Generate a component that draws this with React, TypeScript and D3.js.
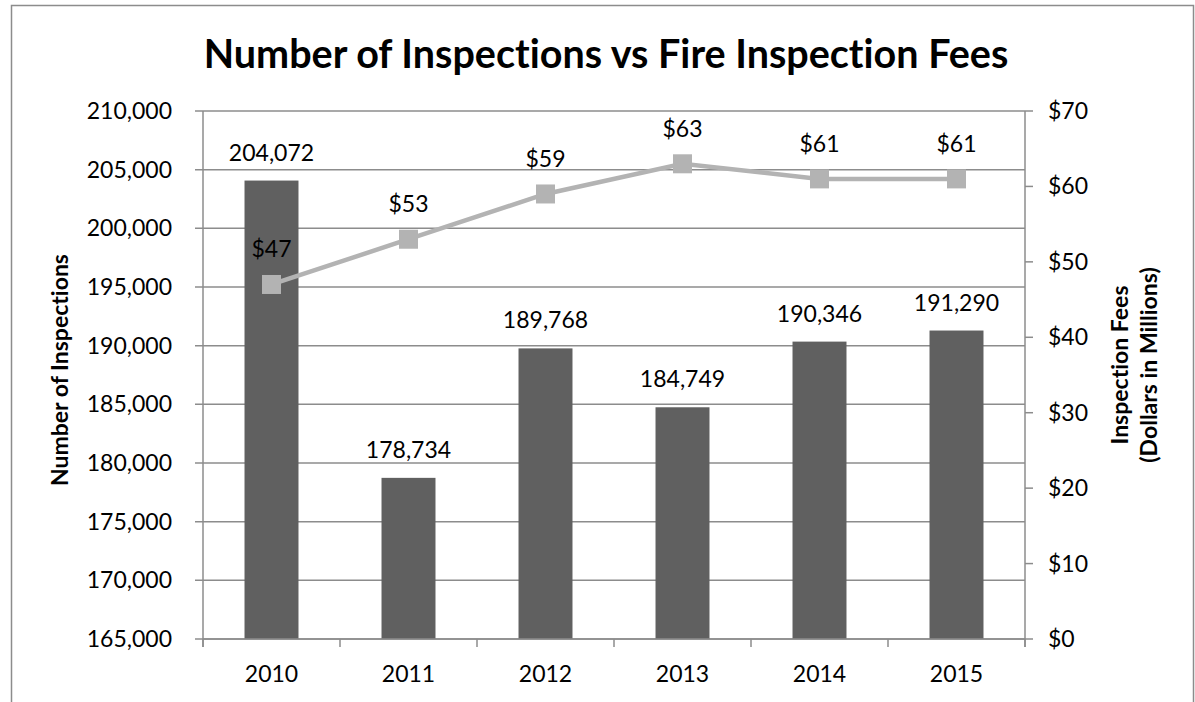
import React from 'react';
import * as d3 from 'd3';

const years = ['2010', '2011', '2012', '2013', '2014', '2015'];
const inspections = [204072, 178734, 189768, 184749, 190346, 191290];
const fees = [47, 53, 59, 63, 61, 61];
const leftTicks = [165000, 170000, 175000, 180000, 185000, 190000, 195000, 200000, 205000, 210000];
const rightTicks = [0, 10, 20, 30, 40, 50, 60, 70];

const W = 1195;
const H = 702;
const plot = { left: 203, right: 1025, top: 111, bottom: 639 };
const font = 'Lato, "Open Sans", sans-serif';
const gridColor = '#8c8c8c';
const barColor = '#606060';
const lineColor = '#b3b3b3';

export default function App() {
  const x = d3.scaleBand<string>()
    .domain(years)
    .range([plot.left, plot.right])
    .paddingInner(0.606)
    .paddingOuter(0.303);
  const band = d3.scaleBand<string>().domain(years).range([plot.left, plot.right]);
  const yL = d3.scaleLinear().domain([165000, 210000]).range([plot.bottom, plot.top]);
  const yR = d3.scaleLinear().domain([0, 70]).range([plot.bottom, plot.top]);
  const fmtN = d3.format(',');
  const fmtD = (v: number) => '$' + v;
  const mid = (y: string) => band(y)! + band.bandwidth() / 2;

  const line = d3.line<number>()
    .x((d, i) => mid(years[i]))
    .y(d => yR(d));

  const boundaries = years.map(y => band(y)!).concat([plot.right]);

  return (
    <svg width={W} height={H} style={{ position: 'absolute', left: 0, top: 0, background: '#fff', fontVariantLigatures: 'none' }}>
      <rect x={11.5} y={5.5} width={1182} height={720} fill="#fff" stroke="#8c8c8c" strokeWidth={1.5} />
      <text x={606} y={68} textAnchor="middle" fontFamily={font} fontWeight="bold" fontSize={39.5}>
        Number of Inspections vs Fire Inspection Fees
      </text>

      {/* gridlines */}
      {leftTicks.map(t => (
        <line key={t} x1={plot.left - 8} x2={plot.right} y1={yL(t)} y2={yL(t)} stroke={gridColor} strokeWidth={1.5} />
      ))}
      {rightTicks.map(t => (
        <line key={'r' + t} x1={plot.right} x2={plot.right + 8} y1={yR(t)} y2={yR(t)} stroke={gridColor} strokeWidth={1.5} />
      ))}
      <line x1={plot.left} x2={plot.left} y1={plot.top} y2={plot.bottom + 8} stroke={gridColor} strokeWidth={1.5} />
      <line x1={plot.right} x2={plot.right} y1={plot.top} y2={plot.bottom + 8} stroke={gridColor} strokeWidth={1.5} />
      {boundaries.map((b, i) => (
        <line key={'b' + i} x1={b} x2={b} y1={plot.bottom} y2={plot.bottom + 8} stroke={gridColor} strokeWidth={1.5} />
      ))}

      {/* bars */}
      {inspections.map((v, i) => (
        <rect key={years[i]} x={x(years[i])} y={yL(v)} width={x.bandwidth()} height={plot.bottom - yL(v)} fill={barColor} />
      ))}
      <line x1={plot.left} x2={plot.right} y1={plot.bottom} y2={plot.bottom} stroke={gridColor} strokeWidth={1.5} />

      {/* fees line */}
      <path d={line(fees)!} fill="none" stroke={lineColor} strokeWidth={4.5} />
      {fees.map((v, i) => (
        <rect key={'m' + i} x={mid(years[i]) - 9.5} y={yR(v) - 9.5} width={19} height={19} fill={lineColor} />
      ))}

      {/* labels */}
      <g fontFamily={font} fontSize={23} fill="#000">
        {leftTicks.map(t => (
          <text key={t} x={172} y={yL(t) + 8} textAnchor="end">{fmtN(t)}</text>
        ))}
        {rightTicks.map(t => (
          <text key={'r' + t} x={1048} y={yR(t) + 8}>{fmtD(t)}</text>
        ))}
        {years.map(y => (
          <text key={y} x={mid(y)} y={682} textAnchor="middle">{y}</text>
        ))}
        {inspections.map((v, i) => (
          <text key={'bl' + i} x={mid(years[i])} y={yL(v) - 20} textAnchor="middle">{fmtN(v)}</text>
        ))}
        {fees.map((v, i) => (
          <text key={'fl' + i} x={mid(years[i])} y={yR(v) - 27} textAnchor="middle">{fmtD(v)}</text>
        ))}
      </g>

      <g fontFamily={font} fontWeight="bold" fontSize={23}>
        <text transform="translate(68,370) rotate(-90)" textAnchor="middle">Number of Inspections</text>
        <text transform="translate(1128,365) rotate(-90)" textAnchor="middle">Inspection Fees</text>
        <text transform="translate(1157,365) rotate(-90)" textAnchor="middle">(Dollars in Millions)</text>
      </g>
    </svg>
  );
}
